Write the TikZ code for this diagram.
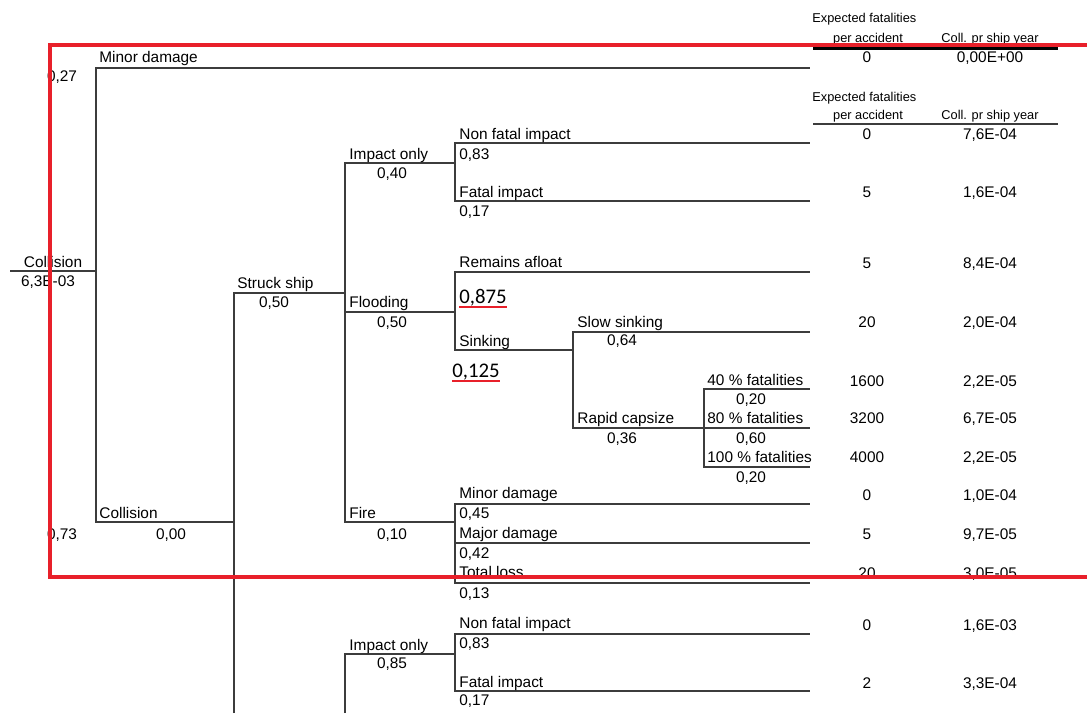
\documentclass[tikz,border=0pt]{standalone}
\usepackage{fontspec}
\setmainfont{Liberation Sans}
\newfontfamily\calfont{Carlito}
\usepackage{xcolor}
\usetikzlibrary{positioning}

\definecolor{treegray}{HTML}{3C3C3C}
\definecolor{markred}{HTML}{E8202A}
\newcommand{\lblfont}{\fontsize{7.7}{9}\selectfont}
\newcommand{\hdrfont}{\fontsize{6.4}{7.5}\selectfont}
\newcommand{\bigfont}{\calfont\fontsize{10.4}{12}\selectfont}

\tikzset{
  branch/.style={draw=treegray, line width=1pt},
  lbl/.style={font=\lblfont, anchor=base west, inner sep=0pt},
  prob/.style={font=\lblfont, anchor=base, inner sep=0pt},
  hdr/.style={font=\hdrfont, anchor=base, inner sep=0pt},
  redmark/.style={draw=markred, line width=2pt}
}

\begin{document}
\begin{tikzpicture}[x=0.5pt, y=-0.5pt]
  \useasboundingbox (0,0) rectangle (1087,713);

  % branch points of the event tree
  \coordinate (rootL) at (10,271);
  \coordinate (n0) at (96,271);
  \coordinate (eMinor) at (810,68);
  \coordinate (nColl) at (234,522);
  \coordinate (cutA) at (234,713);
  \coordinate (nStruck) at (345,293);
  \coordinate (nImpact) at (455,163);
  \coordinate (nFlood) at (455,312);
  \coordinate (nFire) at (455,522);
  \coordinate (eNonFatal) at (810,143);
  \coordinate (eFatal) at (810,201);
  \coordinate (eAfloat) at (810,272);
  \coordinate (nSink) at (573,350);
  \coordinate (eSlow) at (810,332);
  \coordinate (nRapid) at (704,428);
  \coordinate (e40) at (810,389);
  \coordinate (e80) at (810,428);
  \coordinate (e100) at (810,467);
  \coordinate (eFMinor) at (810,504);
  \coordinate (eFMajor) at (810,543);
  \coordinate (eFTotal) at (810,583);
  \coordinate (cutB) at (345,713);
  \coordinate (nImpact2) at (455,654);
  \coordinate (eNonFatal2) at (810,634);
  \coordinate (eFatal2) at (810,691);

  % tree lines
  \draw[branch] (rootL) -- (n0);
  \draw[branch] (n0) |- (eMinor);
  \draw[branch] (n0) |- (nColl);
  \draw[branch] (cutA) |- (nStruck);
  \draw[branch] (nStruck) |- (nImpact);
  \draw[branch] (nStruck) |- (nFlood);
  \draw[branch] (nStruck) |- (nFire);
  \draw[branch] (nImpact) |- (eNonFatal);
  \draw[branch] (nImpact) |- (eFatal);
  \draw[branch] (nFlood) |- (eAfloat);
  \draw[branch] (nFlood) |- (nSink);
  \draw[branch] (nSink) |- (eSlow);
  \draw[branch] (nSink) |- (nRapid);
  \draw[branch] (nRapid) |- (e40);
  \draw[branch] (nRapid) |- (e80);
  \draw[branch] (nRapid) |- (e100);
  \draw[branch] (nFire) |- (eFMinor);
  \draw[branch] (nFire) |- (eFMajor);
  \draw[branch] (nFire) |- (eFTotal);
  \draw[branch] (cutB) |- (nImpact2);
  \draw[branch] (nImpact2) |- (eNonFatal2);
  \draw[branch] (nImpact2) |- (eFatal2);

  % event labels and probabilities
  \node[prob] (tRoot) at (53,267) {Collision};
  \node[prob] (pRoot) at (48,286) {6,3E-03};
  \node[prob] (p27) at (62,81) {0,27};
  \node[prob] (p73) at (62,539) {0,73};
  \node[lbl] (tMinor) at (99,62) {Minor damage};
  \node[lbl] (tColl) at (99,518) {Collision};
  \node[prob] (pColl) at (171,539) {0,00};
  \node[lbl] (tStruck) at (237,288) {Struck ship};
  \node[prob] (pStruck) at (274,307) {0,50};
  \node[lbl] (tImpact) at (349,159) {Impact only};
  \node[prob] (pImpact) at (392,178) {0,40};
  \node[lbl] (tNonFatal) at (459,139) {Non fatal impact};
  \node[lbl] (pNonFatal) at (459,159) {0,83};
  \node[lbl] (tFatal) at (459,197) {Fatal impact};
  \node[lbl] (pFatal) at (459,216) {0,17};
  \node[lbl] (tFlood) at (349,307) {Flooding};
  \node[prob] (pFlood) at (392,327) {0,50};
  \node[lbl] (tAfloat) at (459,267) {Remains afloat};
  \node[lbl, font=\bigfont] (pAfloat) at (459,303) {0,875};
  \node[lbl] (tSink) at (459,346) {Sinking};
  \node[lbl, font=\bigfont] (pSink) at (452,377) {0,125};
  \node[lbl] (tSlow) at (577,327) {Slow sinking};
  \node[prob] (pSlow) at (622,345) {0,64};
  \node[lbl] (tRapid) at (577,423) {Rapid capsize};
  \node[prob] (pRapid) at (622,443) {0,36};
  \node[lbl] (t40) at (707,385) {40 \% fatalities};
  \node[prob] (p40) at (751,404) {0,20};
  \node[lbl] (t80) at (707,423) {80 \% fatalities};
  \node[prob] (p80) at (751,443) {0,60};
  \node[lbl] (t100) at (707,462) {100 \% fatalities};
  \node[prob] (p100) at (751,482) {0,20};
  \node[lbl] (tFire) at (349,518) {Fire};
  \node[prob] (pFire) at (392,539) {0,10};
  \node[lbl] (tFMinor) at (459,498) {Minor damage};
  \node[lbl] (pFMinor) at (459,518) {0,45};
  \node[lbl] (tFMajor) at (459,538) {Major damage};
  \node[lbl] (pFMajor) at (459,558) {0,42};
  \node[lbl] (tFTotal) at (459,577) {Total loss};
  \node[lbl] (pFTotal) at (459,598) {0,13};
  \node[lbl] (tImpact2) at (349,650) {Impact only};
  \node[prob] (pImpact2) at (392,668) {0,85};
  \node[lbl] (tNonFatal2) at (459,628) {Non fatal impact};
  \node[lbl] (pNonFatal2) at (459,648) {0,83};
  \node[lbl] (tFatal2) at (459,687) {Fatal impact};
  \node[lbl] (pFatal2) at (459,705) {0,17};

  % red underlines
  \draw[redmark, line width=1.2pt] ([yshift=-2pt]pAfloat.base west) -- ([yshift=-2pt]pAfloat.base east);
  \draw[redmark, line width=1.2pt] ([yshift=-2pt]pSink.base west) -- ([yshift=-2pt]pSink.base east);

  % table headers
  \node[hdr, anchor=base west] (hFat1) at (812,22) {Expected fatalities};
  \node[hdr] (hAcc1) at (868,42) {per accident};
  \node[hdr] (hYear1) at (990,42) {Coll. pr ship year};
  \draw[black, line width=1.5pt] (813,48.5) -- (1058,48.5);
  \node[hdr, anchor=base west] (hFat2) at (812,101) {Expected fatalities};
  \node[hdr] (hAcc2) at (868,119) {per accident};
  \node[hdr] (hYear2) at (990,119) {Coll. pr ship year};
  \draw[treegray, line width=1pt] (813,124) -- (1058,124);

  % outcome values
  \foreach \y/\fat/\yr in {62/0/{0,00E+00}, 139/0/{7,6E-04}, 197/5/{1,6E-04},
      268/5/{8,4E-04}, 327/20/{2,0E-04}, 386/1600/{2,2E-05}, 423/3200/{6,7E-05},
      462/4000/{2,2E-05}, 500/0/{1,0E-04}, 539/5/{9,7E-05}, 578/20/{3,0E-05},
      630/0/{1,6E-03}, 688/2/{3,3E-04}} {
    \node[prob] (fat\y) at (867,\y) {\fat};
    \node[prob] (yr\y) at (990,\y) {\yr};
  }

  % highlight frame
  \draw[redmark] (1087,44.5) -- (49.5,44.5) -- (49.5,577) -- (1087,577);
\end{tikzpicture}
\end{document}
